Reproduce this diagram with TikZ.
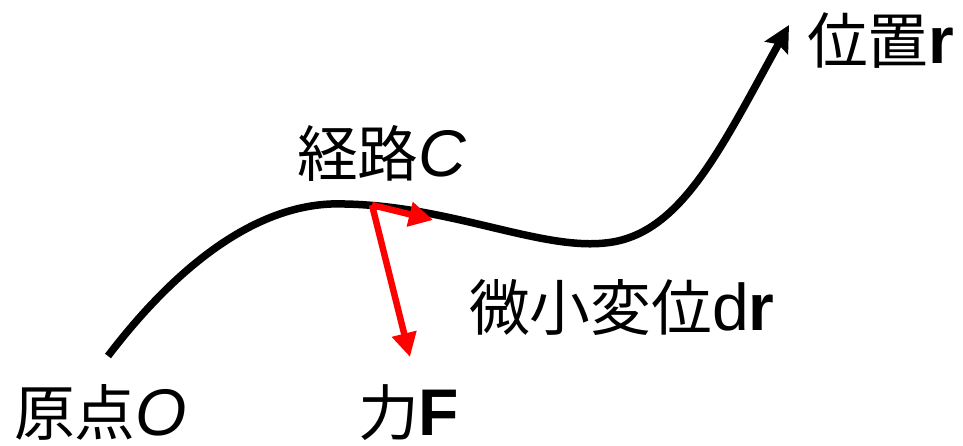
\documentclass[tikz,border=0pt]{standalone}
\usepackage{fontspec}
\setmainfont{Liberation Sans}
\newfontfamily\cjk[Scale=0.92]{Noto Sans CJK JP}
\usetikzlibrary{arrows.meta}

\begin{document}
\begin{tikzpicture}[x=1pt,y=-1pt]
  \tikzstyle{every node}=[inner sep=0pt,anchor=base west,text depth=0pt,font=\fontsize{66}{70}\selectfont]
  \tikzstyle{route}=[line width=7.5pt,-{Stealth[length=26pt,width=26pt,inset=4pt]}]
  \tikzstyle{vec}=[red,line width=6.5pt,-{Triangle[length=24pt,width=24pt]}]

  \useasboundingbox (0,0) rectangle (963,445);

  \coordinate (O)  at (108,356);
  \coordinate (R)  at (789,25);
  \coordinate (P)  at (372,205);
  \coordinate (dR) at (433,220);
  \coordinate (F)  at (410,357);

  \node (posr)   at (807,63)  {{\cjk 位置}\textbf{r}};
  \node (pathC)  at (297,176) {{\cjk 経路}\textit{C}};
  \node (dispdr) at (469,330) {{\cjk 微小変位}d\textbf{r}};
  \node (origO)  at (14,435)  {{\cjk 原点}\textit{O}};
  \node (forceF) at (358,435) {{\cjk 力}\textbf{F}};

  \draw[route] (O) .. controls (172,272) and (255,200) .. (345,204)
                   .. controls (450,206) and (540,250) .. (605,243)
                   .. controls (680,236) and (720,150) .. (R);
  \draw[vec] (P) -- (dR);
  \draw[vec] (P) -- (F);
\end{tikzpicture}
\end{document}
